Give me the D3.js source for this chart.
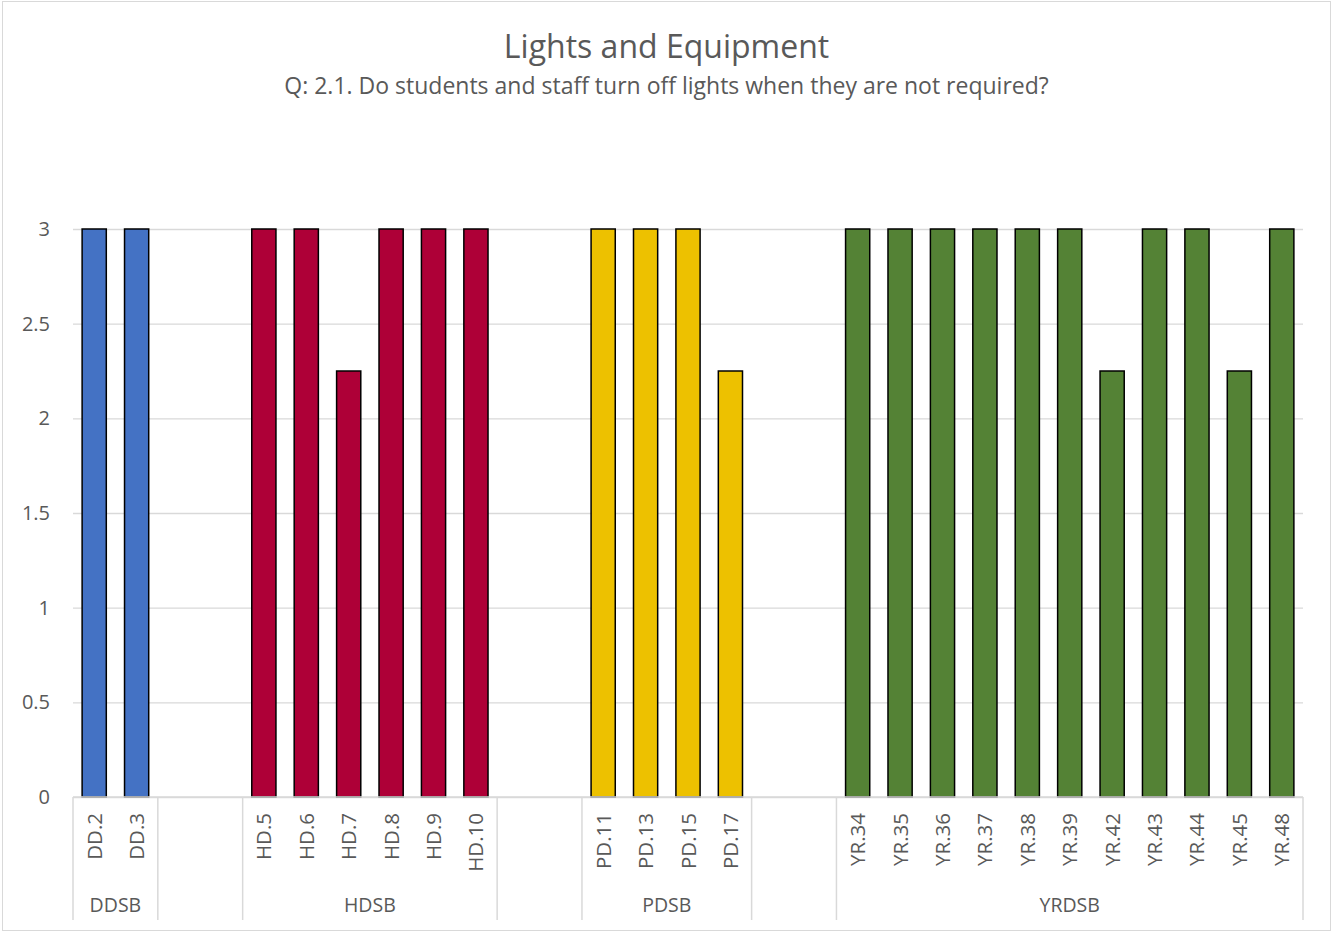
<!DOCTYPE html>
<html>
<head>
<meta charset="utf-8">
<script src="https://cdn.jsdelivr.net/npm/d3@7"></script>
<style>
  body { margin: 0; background: #fff; }
  svg text { font-family: "Open Sans", "Noto Sans", sans-serif; fill: #595959; }
</style>
</head>
<body>
<svg class="chart"></svg>
<script>
// groups in axis order; the empty ones are the spacer groups Excel left in
const groups = ['DDSB', '', 'HDSB', '', 'PDSB', '', 'YRDSB']
const groupSizes = [2, 2, 6, 2, 4, 2, 11]
const groupColors = ['#4472c4', null, '#ae0037', null, '#edc100', null, '#548235']

const categories = [
  'DD.2', 'DD.3', '', '',
  'HD.5', 'HD.6', 'HD.7', 'HD.8', 'HD.9', 'HD.10', '', '',
  'PD.11', 'PD.13', 'PD.15', 'PD.17', '', '',
  'YR.34', 'YR.35', 'YR.36', 'YR.37', 'YR.38', 'YR.39', 'YR.42', 'YR.43', 'YR.44', 'YR.45', 'YR.48'
]
const values = [
  3, 3, null, null,
  3, 3, 2.25, 3, 3, 3, null, null,
  3, 3, 3, 2.25, null, null,
  3, 3, 3, 3, 3, 3, 2.25, 3, 3, 2.25, 3
]
const yTicks = [0, 0.5, 1, 1.5, 2, 2.5, 3]

const width = 1333, height = 932
const margin = { left: 73, right: 30, top: 229, bottom: 135 }

const svg = d3.select('.chart')
  .attr('width', width)
  .attr('height', height)

svg.append('rect')
  .attr('x', 2.5).attr('y', 1.5)
  .attr('width', width - 5).attr('height', height - 3)
  .attr('fill', '#fff')
  .attr('stroke', '#d9d9d9')

svg.append('text')
  .attr('x', width / 2).attr('y', 58)
  .attr('text-anchor', 'middle')
  .style('font-size', '32px')
  .text('Lights and Equipment')

svg.append('text')
  .attr('x', width / 2).attr('y', 94)
  .attr('text-anchor', 'middle')
  .style('font-size', '23px')
  .text('Q: 2.1. Do students and staff turn off lights when they are not required?')

const slots = categories.map((c, i) => i)
const x = d3.scaleBand()
  .domain(slots)
  .range([margin.left, width - margin.right])
  .paddingInner(0.43)
  .paddingOuter(0.215)

const y = d3.scaleLinear()
  .domain([0, 3])
  .range([height - margin.bottom, margin.top])

// gridlines + y labels
const yAxis = d3.axisLeft(y)
  .tickValues(yTicks)
  .tickSize(-(width - margin.left - margin.right))
  .tickPadding(23)
  .tickFormat(d3.format('~g'))

svg.append('g')
  .attr('transform', `translate(${margin.left},0)`)
  .call(yAxis)
  .call(g => g.select('.domain').remove())
  .call(g => g.selectAll('line').attr('stroke', '#d9d9d9').attr('stroke-width', 1.3))
  .call(g => g.selectAll('text').style('font-size', '20px').attr('fill', '#595959'))

// which group each slot belongs to
const slotGroup = []
groupSizes.forEach((n, gi) => { for (let k = 0; k < n; k++) slotGroup.push(gi) })

svg.append('g')
  .selectAll('rect')
  .data(slots.filter(i => values[i] != null))
  .enter().append('rect')
  .attr('x', i => x(i))
  .attr('width', x.bandwidth())
  .attr('y', i => y(values[i]))
  .attr('height', i => y(0) - y(values[i]))
  .attr('fill', i => groupColors[slotGroup[i]])
  .attr('stroke', '#000')
  .attr('stroke-width', 1.5)

// category axis with group brackets
const step = x.step()
const x0 = margin.left
const baseY = y(0)
const axisG = svg.append('g')

axisG.append('line')
  .attr('x1', x0).attr('x2', width - margin.right)
  .attr('y1', baseY).attr('y2', baseY)
  .attr('stroke', '#d9d9d9').attr('stroke-width', 1.5)

let start = 0
const bounds = [0]
groupSizes.forEach(n => { start += n; bounds.push(start) })

axisG.selectAll('.sep')
  .data(bounds)
  .enter().append('line')
  .attr('class', 'sep')
  .attr('x1', b => x0 + b * step).attr('x2', b => x0 + b * step)
  .attr('y1', baseY).attr('y2', 920)
  .attr('stroke', '#d9d9d9').attr('stroke-width', 1.5)

axisG.selectAll('.cat')
  .data(slots.filter(i => categories[i]))
  .enter().append('text')
  .attr('class', 'cat')
  .attr('transform', i => `translate(${x(i) + x.bandwidth() / 2 + 7.5},813) rotate(-90)`)
  .attr('text-anchor', 'end')
  .style('font-size', '20.5px')
  .text(i => categories[i])

axisG.selectAll('.grp')
  .data(groups.map((g, gi) => ({ g, gi })).filter(d => d.g))
  .enter().append('text')
  .attr('class', 'grp')
  .attr('x', d => x0 + (bounds[d.gi] + bounds[d.gi + 1]) / 2 * step)
  .attr('y', 912)
  .attr('text-anchor', 'middle')
  .style('font-size', '19.5px')
  .text(d => d.g)
</script>
</body>
</html>
